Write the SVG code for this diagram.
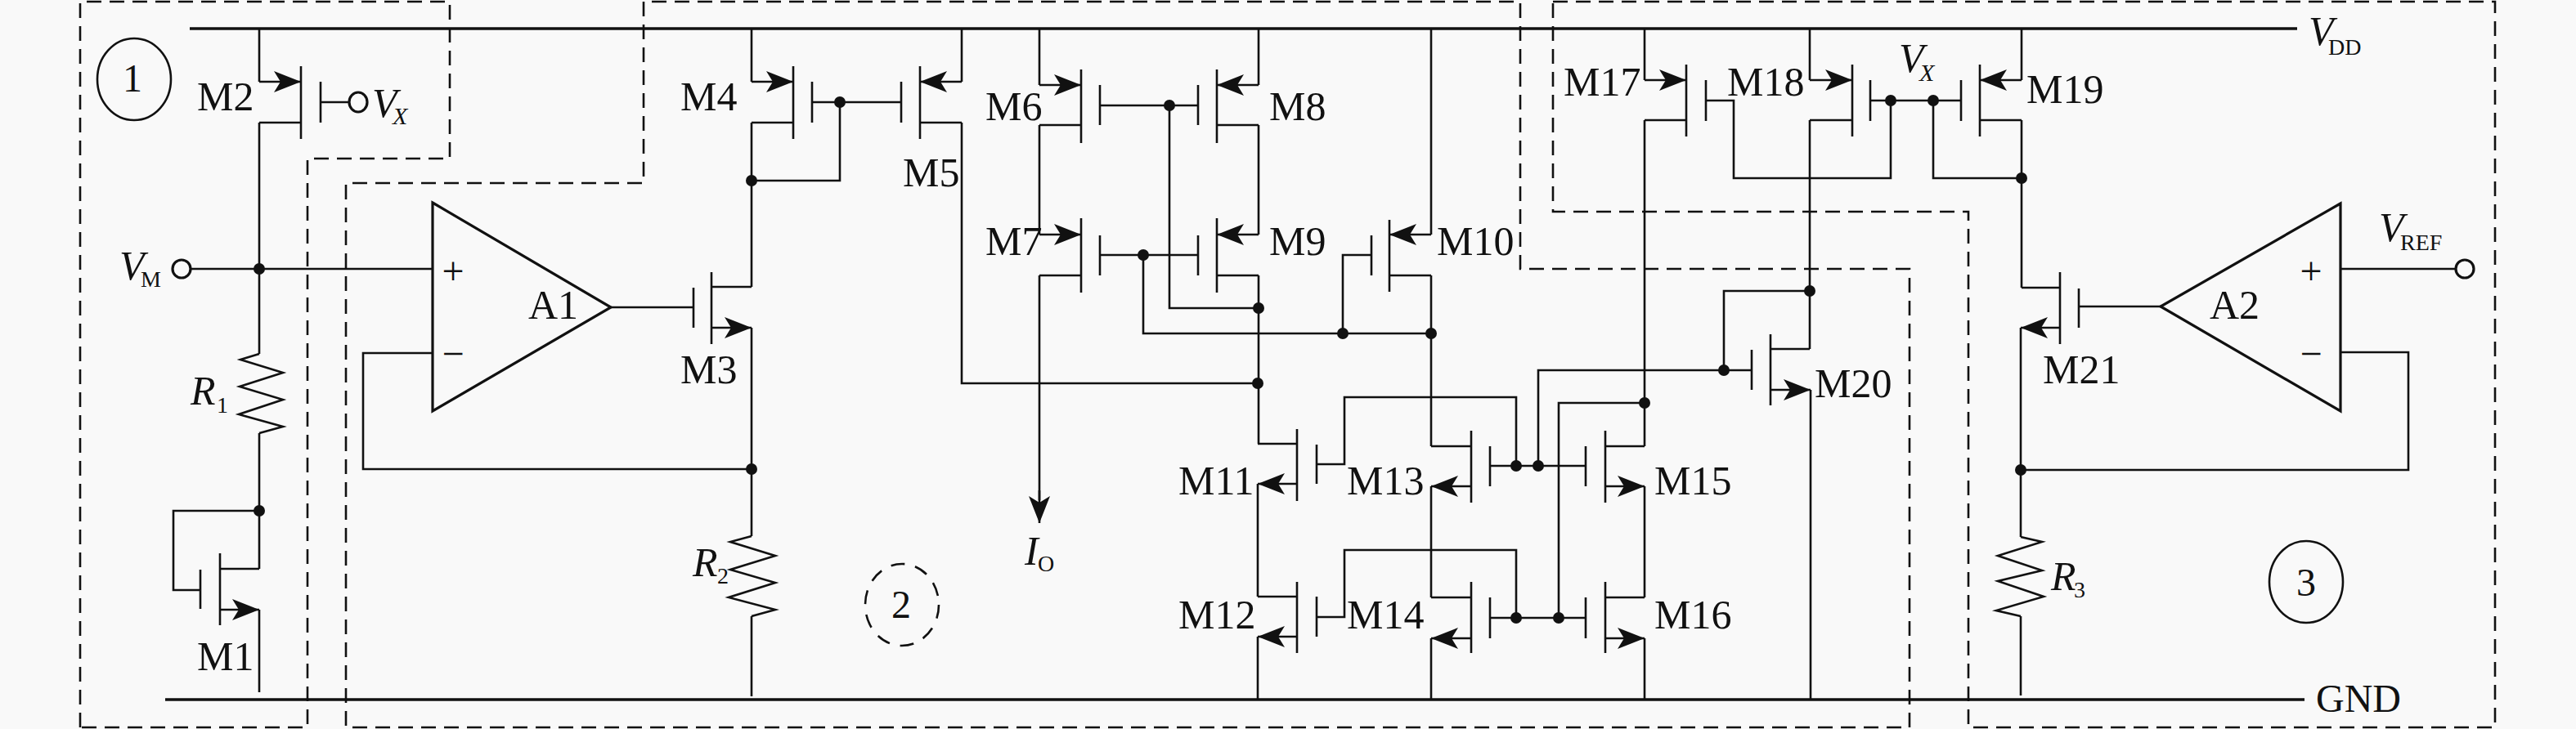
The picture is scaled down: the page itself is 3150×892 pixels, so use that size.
<svg xmlns="http://www.w3.org/2000/svg" width="3150" height="892" viewBox="0 0 3150 892">
<style>
.w{fill:none;stroke:#111;stroke-width:2.6;stroke-linejoin:miter}
.r{fill:none;stroke:#111;stroke-width:3.4}
.b{fill:none;stroke:#111;stroke-width:3.2}
.d{fill:none;stroke:#111;stroke-width:2.6;stroke-dasharray:18 10}
.a{marker-end:url(#ah)}
.dot{fill:#111;stroke:none}
text{font-family:"Liberation Serif","Times New Roman",serif;fill:#111}
.t{font-size:50px}
.n{font-size:48px}
.i{font-size:50px;font-style:italic}
.s{font-size:28px}
.si{font-size:30px;font-style:italic}
</style>
<defs>
<marker id="ah" markerUnits="userSpaceOnUse" markerWidth="34" markerHeight="28" refX="33" refY="13" orient="auto">
<path d="M0,0L33,13L0,26L8,13Z" fill="#111"/>
</marker>
</defs>
<rect width="3150" height="892" fill="#f9f9f9"/>
<g id="regions">
<path class="d" d="M98 890V2H550V194H376V890H98"/>
<path class="d" d="M787 2V224H423V890H2335V329H1859V2H787"/>
<path class="d" d="M1899 2H3051V890H2407V259H1899V2"/>
</g>
<g id="connectors">
<path class="r" d="M232 35H2809"/>
<path class="r" d="M202 856H2818"/>
<path class="w" d="M317 35V100M317 150V433M317 530V696M317 746V847"/>
<path class="w" d="M317 625H212V722H245"/>
<path class="w" d="M233 329H529"/>
<path class="w" d="M392 125H427"/>
<path class="w" d="M747 376H848"/>
<path class="w" d="M529 432H444V574H919"/>
<path class="w" d="M919 401V656M919 754V852"/>
<path class="w" d="M919 35V100M919 150V351"/>
<path class="w" d="M993 125H1102M1027 125V221H919"/>
<path class="w" d="M1176 35V100M1176 150V469H1538"/>
<path class="w" d="M1271 35V104M1271 153V287M1271 337V612"/>
<path class="w" d="M1345 129H1465M1430 129V377H1539"/>
<path class="w" d="M1539 35V104M1539 153V287M1539 337V543"/>
<path class="w" d="M1345 312H1465M1398 312V408H1750M1642 408V312H1677"/>
<path class="w" d="M1750 35V287M1750 337V546M1750 595V731M1750 781V856"/>
<path class="w" d="M1538 592V730M1538 779V856"/>
<path class="w" d="M1610 568H1644V486H1854V570M1822 570H1939M1881 570V453H2142M2108 453V356H2213"/>
<path class="w" d="M1610 755H1644V673H1854V756M1822 756H1939M1906 756V493H2011"/>
<path class="w" d="M2011 35V98M2011 147V546M2011 595V731M2011 781V856"/>
<path class="w" d="M2213 35V98M2213 147V427M2214 477V856"/>
<path class="w" d="M2086 123H2120V218H2312V123M2287 123H2398M2364 123V218H2472"/>
<path class="w" d="M2472 35V98M2472 147V352"/>
<path class="w" d="M2471 401V657M2471 754V851"/>
<path class="w" d="M2542 375H2642"/>
<path class="w" d="M2862 431H2945V575H2471"/>
<path class="w" d="M2862 329H3003"/>
<g id="junctions">
<circle class="dot" cx="317" cy="329" r="7"/><circle class="dot" cx="317" cy="625" r="7"/>
<circle class="dot" cx="919" cy="574" r="7"/><circle class="dot" cx="919" cy="221" r="7"/>
<circle class="dot" cx="1027" cy="125" r="7"/><circle class="dot" cx="1430" cy="129" r="7"/>
<circle class="dot" cx="1398" cy="312" r="7"/><circle class="dot" cx="1539" cy="377" r="7"/>
<circle class="dot" cx="1642" cy="408" r="7"/><circle class="dot" cx="1750" cy="408" r="7"/>
<circle class="dot" cx="1538" cy="469" r="7"/><circle class="dot" cx="1854" cy="570" r="7"/>
<circle class="dot" cx="1881" cy="570" r="7"/><circle class="dot" cx="1854" cy="756" r="7"/>
<circle class="dot" cx="1906" cy="756" r="7"/><circle class="dot" cx="2011" cy="493" r="7"/>
<circle class="dot" cx="2108" cy="453" r="7"/><circle class="dot" cx="2213" cy="356" r="7"/>
<circle class="dot" cx="2312" cy="123" r="7"/><circle class="dot" cx="2364" cy="123" r="7"/>
<circle class="dot" cx="2472" cy="218" r="7"/><circle class="dot" cx="2471" cy="575" r="7"/>
</g>
<g id="io-arrow"><path class="w a" d="M1271 600V640"/></g>
</g>
<g id="circle1"><ellipse class="w" cx="164" cy="97" rx="45" ry="50"/><text class="n" x="162" y="112" text-anchor="middle">1</text></g>
<g id="circle2"><ellipse class="w" cx="1103" cy="740" rx="45" ry="50" stroke-dasharray="17 13"/><text class="n" x="1102" y="756" text-anchor="middle">2</text></g>
<g id="circle3"><ellipse class="w" cx="2820" cy="712" rx="45" ry="50"/><text class="n" x="2820" y="729" text-anchor="middle">3</text></g>
<g id="vm"><circle class="b" cx="222" cy="329" r="11"/><text class="i" x="146" y="342">V</text><text class="s" x="172" y="351">M</text></g>
<g id="vx1"><ellipse class="b" cx="438" cy="125" rx="11" ry="12"/><text class="i" x="455" y="143">V</text><text class="si" x="480" y="152">X</text></g>
<g id="vx2"><text class="i" x="2322" y="88">V</text><text class="si" x="2347" y="99">X</text></g>
<g id="vdd"><text class="i" x="2823" y="55">V</text><text class="s" x="2847" y="67">DD</text></g>
<g id="gnd"><text class="n" x="2832" y="871">GND</text></g>
<g id="vref"><circle class="b" cx="3014" cy="329" r="11"/><text class="i" x="2909" y="295">V</text><text class="s" x="2935" y="306">REF</text></g>
<g id="io"><text class="i" x="1253" y="691">I</text><text class="s" x="1269" y="699">O</text></g>
<g id="R1"><path class="w" d="M317 433L294 440L346 456L293 473L346 489L292 507L346 522L317 530"/><text class="i" x="233" y="495">R</text><text class="s" x="265" y="505">1</text></g>
<g id="R2"><path class="w" d="M919 656L893 663L948 680L893 697L948 713L891 731L948 746L919 754"/><text class="i" x="847" y="705">R</text><text class="s" x="877" y="714">2</text></g>
<g id="R3"><path class="w" d="M2471 657L2497 663L2443 680L2497 698L2443 711L2499 730L2441 747L2471 754"/><text class="i" x="2508" y="722">R</text><text class="s" x="2536" y="731">3</text></g>
<g id="A1"><path class="b" d="M529 248L747 376L529 503Z"/><text class="t" x="646" y="390">A1</text><text class="n" x="554" y="348" text-anchor="middle">+</text><text class="n" x="554" y="449" text-anchor="middle">−</text></g>
<g id="A2"><path class="b" d="M2862 249L2642 375L2862 503Z"/><text class="t" x="2702" y="390">A2</text><text class="n" x="2826" y="348" text-anchor="middle">+</text><text class="n" x="2826" y="449" text-anchor="middle">−</text></g>
<g id="M1"><path class="w" d="M269 677V765M245 697V745M269 696H317"/><path class="w a" d="M269 746H317"/><text class="t" x="241" y="820">M1</text></g>
<g id="M2"><path class="w" d="M368 81V170M392 100V150M368 150H317"/><path class="w a" d="M317 100H368"/><text class="t" x="241" y="135">M2</text></g>
<g id="M3"><path class="w" d="M870 333V421M848 352V401M870 351H919"/><path class="w a" d="M870 401H919"/><text class="t" x="832" y="469">M3</text></g>
<g id="M4"><path class="w" d="M970 81V170M993 100V150M970 150H919"/><path class="w a" d="M919 100H970"/><text class="t" x="832" y="135">M4</text></g>
<g id="M5"><path class="w" d="M1125 81V170M1102 100V150M1125 150H1176"/><path class="w a" d="M1176 100H1125"/><text class="t" x="1104" y="228">M5</text></g>
<g id="M6"><path class="w" d="M1322 85V175M1345 104V153M1322 153H1271"/><path class="w a" d="M1271 104H1322"/><text class="t" x="1205" y="147">M6</text></g>
<g id="M7"><path class="w" d="M1322 267V358M1345 288V337M1322 337H1271"/><path class="w a" d="M1271 287H1322"/><text class="t" x="1205" y="312">M7</text></g>
<g id="M8"><path class="w" d="M1488 85V175M1465 104V153M1488 153H1539"/><path class="w a" d="M1539 104H1488"/><text class="t" x="1552" y="147">M8</text></g>
<g id="M9"><path class="w" d="M1488 267V358M1465 288V337M1488 337H1539"/><path class="w a" d="M1539 287H1488"/><text class="t" x="1552" y="312">M9</text></g>
<g id="M10"><path class="w" d="M1699 269V357M1677 288V337M1699 337H1750"/><path class="w a" d="M1750 287H1699"/><text class="t" x="1757" y="312">M10</text></g>
<g id="M11"><path class="w" d="M1586 525V613M1610 544V592M1586 543H1538"/><path class="w a" d="M1586 592H1538"/><text class="t" x="1441" y="605">M11</text></g>
<g id="M12"><path class="w" d="M1586 712V799M1610 730V779M1586 730H1538"/><path class="w a" d="M1586 779H1538"/><text class="t" x="1441" y="769">M12</text></g>
<g id="M13"><path class="w" d="M1799 527V615M1822 546V595M1799 546H1750"/><path class="w a" d="M1799 595H1750"/><text class="t" x="1647" y="605">M13</text></g>
<g id="M14"><path class="w" d="M1799 712V799M1822 731V781M1799 731H1750"/><path class="w a" d="M1799 781H1750"/><text class="t" x="1647" y="769">M14</text></g>
<g id="M15"><path class="w" d="M1963 527V615M1939 546V595M1963 546H2011"/><path class="w a" d="M1963 595H2011"/><text class="t" x="2023" y="605">M15</text></g>
<g id="M16"><path class="w" d="M1963 712V799M1939 731V781M1963 731H2011"/><path class="w a" d="M1963 781H2011"/><text class="t" x="2023" y="769">M16</text></g>
<g id="M17"><path class="w" d="M2062 79V167M2086 98V148M2062 147H2011"/><path class="w a" d="M2011 98H2062"/><text class="t" x="1912" y="117">M17</text></g>
<g id="M18"><path class="w" d="M2265 79V167M2287 98V148M2265 147H2213"/><path class="w a" d="M2213 98H2265"/><text class="t" x="2112" y="117">M18</text></g>
<g id="M19"><path class="w" d="M2421 79V167M2398 98V148M2421 147H2472"/><path class="w a" d="M2472 98H2421"/><text class="t" x="2478" y="126">M19</text></g>
<g id="M20"><path class="w" d="M2165 409V496M2142 428V477M2165 427H2213"/><path class="w a" d="M2165 477H2214"/><text class="t" x="2219" y="486">M20</text></g>
<g id="M21"><path class="w" d="M2519 333V421M2542 353V401M2519 352H2472"/><path class="w a" d="M2519 401H2471"/><text class="t" x="2498" y="469">M21</text></g>
</svg>
